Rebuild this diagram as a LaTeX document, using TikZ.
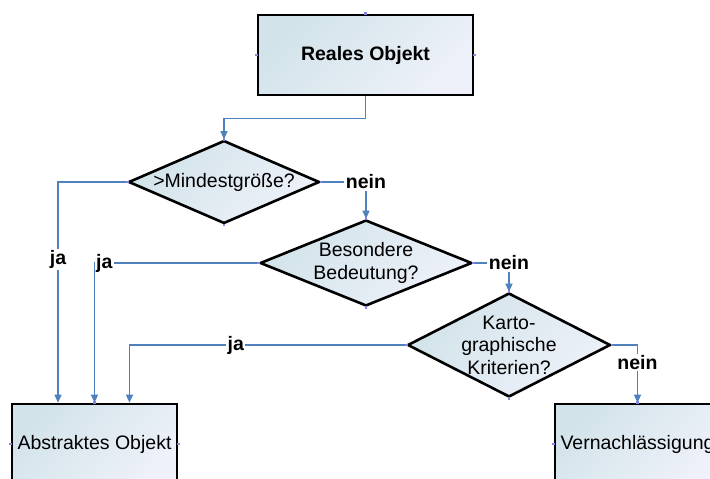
\documentclass[tikz,border=0pt]{standalone}
\usepackage{fontspec}
\setmainfont{Liberation Sans}
\usetikzlibrary{shapes.geometric,arrows.meta}
\definecolor{flowblue}{HTML}{4F81BD}
\definecolor{fillA}{HTML}{D2E3EA}
\definecolor{fillB}{HTML}{EEF1F9}
\definecolor{sitemark}{HTML}{8484E8}
\begin{document}
\begin{tikzpicture}[x=1pt,y=-1pt,
  every node/.style={font=\fontsize{19.5}{22.5}\selectfont},
  shaded/.style={draw=black, line width=2.6pt, top color=fillA, bottom color=fillB, shading angle=45},
  procbox/.style={shaded, rectangle, minimum width=165pt, minimum height=80pt, inner sep=0pt},
  decision/.style={shaded, diamond, inner sep=0pt},
  decisiontext/.style={align=center, inner sep=0pt},
  flow/.style={draw=flowblue, line width=1.3pt},
  flowarrow/.style={flow, -{Triangle[width=7pt,length=8pt]}},
  answer/.style={fill=white, inner sep=1.5pt, font=\fontsize{19.5}{22.5}\selectfont\bfseries},
  site/.style={fill=sitemark, inner sep=0pt, minimum size=2.6pt, rectangle}
]
\useasboundingbox (0,0) rectangle (710,479);
\clip (0,0) rectangle (710,479);

% boxes
\node[procbox, minimum width=215pt, font=\fontsize{19.5}{22.5}\selectfont\bfseries] (reales) at (365.5,55) {Reales Objekt};
\node[procbox] (abs) at (94.5,444) {Abstraktes Objekt};
\node[procbox] (vern) at (637.5,444) {Vernachlässigung};

% decisions
\node[decision, minimum width=191pt, minimum height=83pt] (d1) at (224,182) {};
\node[decisiontext] (d1t) at (d1) {>Mindestgröße?};
\node[decision, minimum width=212pt, minimum height=86pt] (d2) at (366,263) {};
\node[decisiontext] (d2t) at (d2) {Besondere\\Bedeutung?};
\node[decision, minimum width=203pt, minimum height=104pt] (d3) at (509,345) {};
\node[decisiontext] (d3t) at (d3) {Karto-\\graphische\\Kriterien?};

% connectors
\draw[flowarrow] (reales.south) -- ++(0,22) -| (d1.north);

\node[answer] (n1) at (d2.north |- d1.east) {nein};
\draw[flow] (d1.east) -- (n1);
\draw[flowarrow] (n1) -- (d2.north);

\node[answer] (n2) at (d3.north |- d2.east) {nein};
\draw[flow] (d2.east) -- (n2);
\draw[flowarrow] (n2) -- (d3.north);

\draw[flowarrow] (d3.east) -| node[answer, pos=0.65] (n3) {nein} (vern.north);

\draw[flowarrow] (d1.west) -| node[answer, pos=0.676] (j1) {ja} ([xshift=-36.5pt]abs.north);
\draw[flowarrow] (d2.west) -| node[answer, pos=0.47] (j2) {ja} (abs.north);
\draw[flowarrow] (d3.west) -| node[answer, pos=0.308] (j3) {ja} ([xshift=35pt]abs.north);

% connection sites
\foreach \s in {reales.north, reales.west, reales.east,
                d1.north, d1.south, d1.west, d1.east,
                d2.north, d2.south, d2.west, d2.east,
                d3.north, d3.south, d3.west, d3.east,
                abs.west, abs.east, abs.north, vern.west, vern.north}
  \node[site] at (\s) {};
\end{tikzpicture}
\end{document}
